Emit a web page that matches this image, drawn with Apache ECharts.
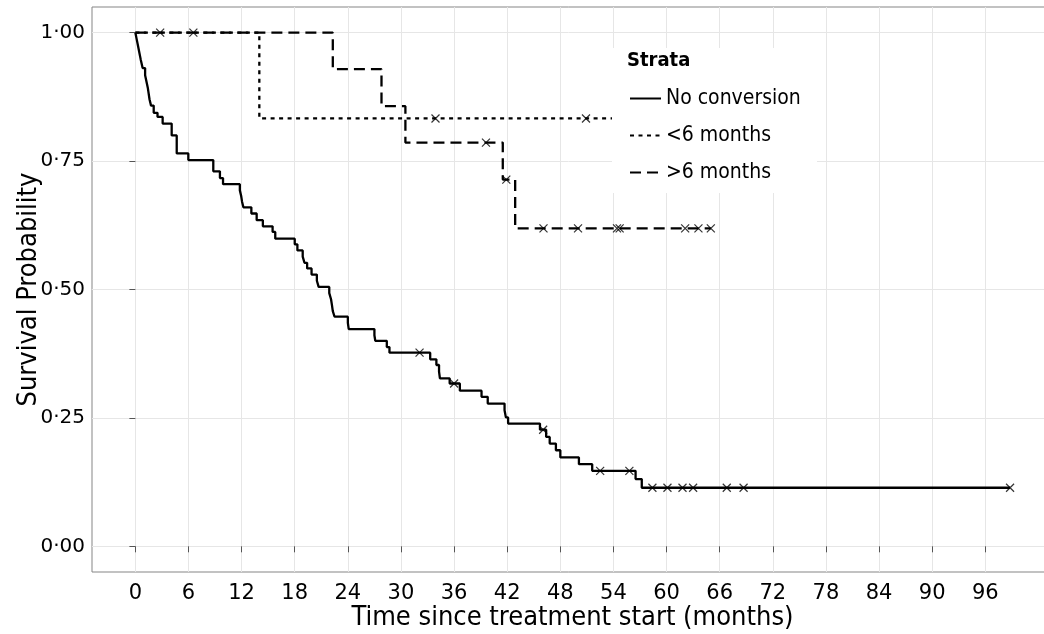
<!DOCTYPE html>
<html>
<head>
<meta charset="utf-8">
<script src="https://cdn.jsdelivr.net/npm/echarts@6/dist/echarts.min.js"></script>
<style>
html,body{margin:0;padding:0;background:#fff;}
#chart{width:1044px;height:634px;}
</style>
</head>
<body>
<div id="chart"></div>
<script>
var FONT_C = "'DejaVu Sans Condensed', 'DejaVu Sans', sans-serif";
var FONT = "'DejaVu Sans', sans-serif";

var xTicks = [0, 6, 12, 18, 24, 30, 36, 42, 48, 54, 60, 66, 72, 78, 84, 90, 96];
var yTicks = [0, 0.25, 0.5, 0.75, 1];

// [time, survival after event]
var noConvSteps = [
    [0, 1], [0.15, 0.987], [0.3, 0.974], [0.45, 0.961], [0.6, 0.948], [0.82, 0.931],
    [1.1, 0.917], [1.25, 0.905], [1.4, 0.893], [1.6, 0.870], [1.77, 0.858],
    [2.07, 0.844], [2.5, 0.836], [3.08, 0.823], [4.1, 0.800], [4.67, 0.765],
    [5.98, 0.752], [8.8, 0.730], [9.55, 0.717], [9.9, 0.705],
    [11.8, 0.693], [11.95, 0.682], [12.05, 0.671], [12.2, 0.660],
    [13.1, 0.648], [13.7, 0.635], [14.4, 0.623], [15.5, 0.612], [15.8, 0.599],
    [18.0, 0.588], [18.3, 0.576], [18.9, 0.564], [19.1, 0.552], [19.4, 0.541],
    [19.9, 0.529], [20.5, 0.517], [20.7, 0.505], [21.9, 0.493],
    [22.1, 0.481], [22.2, 0.470], [22.3, 0.458], [22.5, 0.447],
    [24.0, 0.435], [24.1, 0.423], [27.0, 0.411], [27.1, 0.400],
    [28.4, 0.388], [28.7, 0.377], [33.3, 0.364], [34.0, 0.353],
    [34.3, 0.340], [34.4, 0.327], [35.5, 0.317], [36.65, 0.303],
    [39.1, 0.291], [39.8, 0.278], [41.7, 0.265], [41.85, 0.251], [42.1, 0.239],
    [45.7, 0.227], [46.4, 0.213], [46.8, 0.200], [47.5, 0.187], [48.0, 0.173],
    [50.1, 0.160], [51.6, 0.147], [56.5, 0.131], [57.2, 0.114], [98.8, 0.114]
];
var noConvCensor = [32.1, 36.0, 46.06, 52.5, 55.8, 58.4, 60.1, 61.8, 63.0, 66.8, 68.7, 98.8];

var lt6Steps = [[0, 1], [14.0, 0.833], [56, 0.833]];
var lt6Censor = [33.9, 50.9];

var gt6Steps = [
    [0, 1], [22.3, 0.929], [27.8, 0.857], [30.5, 0.786],
    [41.5, 0.714], [42.9, 0.619], [65.0, 0.619]
];
var gt6Censor = [2.8, 6.55, 39.6, 41.9, 46.1, 50.0, 54.4, 54.7, 62.1, 63.6, 65.0];

function survAt(steps, t) {
    var s = 1;
    for (var i = 0; i < steps.length; i++) {
        if (steps[i][0] <= t) s = steps[i][1];
    }
    return s;
}
function censorPoints(steps, times) {
    return times.map(function (t) { return [t, survAt(steps, t)]; });
}

var chart = echarts.init(document.getElementById('chart'));

var crossSymbol = 'path://M0,0L10,10M10,0L0,10';
function censorSeries(name, steps, times) {
    return {
        name: name,
        type: 'scatter',
        data: censorPoints(steps, times),
        symbol: crossSymbol,
        symbolSize: 8,
        itemStyle: { color: 'none', borderColor: '#000', borderWidth: 1.2 },
        z: 5,
        silent: true
    };
}

var option = {
    animation: false,
    backgroundColor: '#fff',
    textStyle: { fontFamily: FONT },
    grid: {
        left: 92, width: 961, top: 7, bottom: 62,
        outerBoundsMode: 'none', containLabel: false,
        show: true, borderColor: '#858585', borderWidth: 1
    },
    title: {
        text: 'Strata',
        left: 627, top: 51, padding: 0,
        textStyle: { fontFamily: FONT_C, fontWeight: 'bold', fontSize: 20, color: '#000' },
        z: 6
    },
    legend: {
        data: ['No conversion', '<6 months', '>6 months'],
        orient: 'vertical',
        left: 629, top: 88, padding: 0,
        itemWidth: 31, itemHeight: 14, itemGap: 16,
        itemStyle: { opacity: 0 },
        textStyle: { fontFamily: FONT_C, fontSize: 21, color: '#000' },
        z: 5
    },
    graphic: [{
        type: 'rect', z: 4,
        shape: { x: 612, y: 48, width: 205, height: 145 },
        style: { fill: '#fff' }
    }],
    xAxis: {
        type: 'value',
        min: -4.9, max: 103.65,
        name: 'Time since treatment start (months)',
        nameLocation: 'middle', nameGap: 32, nameMoveOverlap: false,
        nameTextStyle: { fontFamily: FONT_C, fontSize: 27, color: '#000' },
        axisLine: { show: false },
        axisTick: { show: true, length: 6, customValues: xTicks, lineStyle: { color: '#555' } },
        axisLabel: { customValues: xTicks, margin: 11, fontSize: 21, color: '#000', fontFamily: FONT },
        splitLine: { show: true, lineStyle: { color: '#e6e6e6', width: 1 } }
    },
    yAxis: {
        type: 'value',
        min: -0.05, max: 1.05,
        name: 'Survival Probability',
        nameLocation: 'middle', nameGap: 50, nameMoveOverlap: false,
        nameTextStyle: { fontFamily: FONT_C, fontSize: 27, color: '#000' },
        axisLine: { show: false },
        axisTick: { show: true, length: 6, customValues: yTicks, lineStyle: { color: '#555' } },
        axisLabel: {
            customValues: yTicks, margin: 7, fontSize: 20, color: '#000', fontFamily: FONT,
            formatter: function (v) { return v.toFixed(2).replace('.', '\u00B7'); }
        },
        splitLine: { show: true, lineStyle: { color: '#e6e6e6', width: 1 } }
    },
    series: [
        {
            name: 'No conversion', type: 'line', step: 'end', data: noConvSteps,
            symbol: 'none', lineStyle: { color: '#000', width: 2.3, type: 'solid' },
            itemStyle: { color: '#000' }, z: 3
        },
        {
            name: '<6 months', type: 'line', step: 'end', data: lt6Steps,
            symbol: 'none', lineStyle: { color: '#000', width: 2.3, type: [4, 4.5] },
            itemStyle: { color: '#000' }, z: 3
        },
        {
            name: '>6 months', type: 'line', step: 'end', data: gt6Steps,
            symbol: 'none', lineStyle: { color: '#000', width: 2.3, type: [11, 6] },
            itemStyle: { color: '#000' }, z: 3
        },
        censorSeries('cens0', noConvSteps, noConvCensor),
        censorSeries('cens1', lt6Steps, lt6Censor),
        censorSeries('cens2', gt6Steps, gt6Censor)
    ]
};
chart.setOption(option);
</script>
</body>
</html>
